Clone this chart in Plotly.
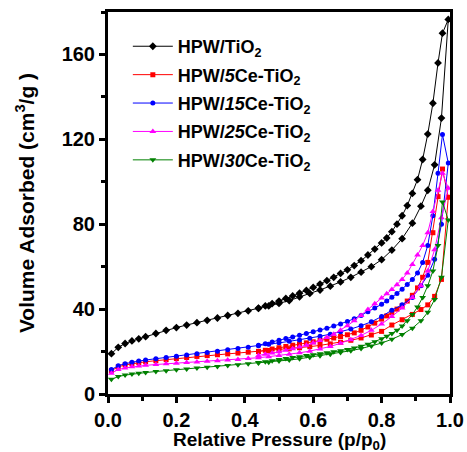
import plotly.graph_objects as go

# Relative pressure grids (adsorption upward, desorption downward)
ADS_P = [0.01, 0.03, 0.05, 0.07, 0.09, 0.11, 0.14, 0.17, 0.20, 0.23, 0.26, 0.29,
         0.32, 0.35, 0.38, 0.41, 0.44, 0.47, 0.50, 0.53, 0.56, 0.59, 0.62, 0.65,
         0.68, 0.71, 0.74, 0.77, 0.80, 0.83, 0.86, 0.89, 0.915, 0.935, 0.955, 0.975, 0.995]
DES_P = [0.978, 0.965, 0.95, 0.935, 0.92, 0.905, 0.89, 0.875, 0.86, 0.845, 0.83, 0.815,
         0.80, 0.78, 0.76, 0.74, 0.72, 0.70, 0.68, 0.66, 0.64, 0.62, 0.60, 0.58,
         0.56, 0.54, 0.52, 0.50, 0.48, 0.46, 0.44]

# Adsorbed volume, cm3/g
TIO2_ADS = [19.0, 22.0, 23.8, 25.0, 26.0, 27.0, 28.5, 30.0, 31.3, 32.5, 33.6, 34.7,
            35.8, 37.0, 38.0, 39.2, 40.3, 41.5, 42.7, 44.0, 45.8, 47.4, 49.0, 50.8,
            52.8, 55.0, 57.4, 60.0, 63.3, 67.8, 73.2, 80.5, 88.5, 96.0, 108.0, 130.0, 176.5]
TIO2_DES = [170, 156, 137, 122.5, 110.5, 101, 94.5, 88.8, 84, 80, 76.5, 73.5,
            71.2, 68.3, 65.5, 62.8, 60.5, 58.5, 56.8, 55.0, 53.4, 51.8, 50.2, 48.8,
            47.5, 46.2, 45.0, 43.8, 42.6, 41.5, 40.5]

CE5_ADS = [11.0, 12.8, 13.7, 14.3, 14.8, 15.2, 15.7, 16.2, 16.7, 17.2, 17.7, 18.1,
           18.5, 18.9, 19.3, 19.7, 20.1, 20.5, 20.9, 21.3, 21.8, 22.3, 22.9, 23.6,
           24.4, 25.3, 26.4, 27.8, 29.5, 32.5, 35.0, 37.5, 39.8, 42.0, 46.0, 54.0, 92.7]
CE5_DES = [106, 93, 76, 62, 55, 50, 46.5, 43.8, 41.6, 40.0, 38.3, 36.8,
           35.3, 33.4, 31.6, 30.0, 28.8, 27.9, 27.1, 26.4, 25.8, 25.2, 24.6, 24.1,
           23.6, 23.0, 22.4, 21.8, 21.2, 20.6, 20.0]

CE15_ADS = [11.5, 13.3, 14.3, 15.0, 15.5, 16.0, 16.6, 17.2, 17.8, 18.4, 19.0, 19.6,
            20.2, 20.8, 21.4, 22.0, 22.7, 23.4, 24.1, 24.8, 25.5, 26.3, 27.2, 28.2,
            29.3, 30.6, 32.2, 34.0, 36.5, 39.5, 42.0, 45.5, 51.0, 56.0, 63.5, 80.0, 108.8]
CE15_DES = [122.3, 104, 84, 70, 62, 57, 54, 51.6, 49.3, 47.4, 45.6, 43.8,
            42.3, 40.5, 38.7, 37.0, 35.5, 34.2, 33.0, 32.0, 31.0, 30.1, 29.3, 28.5,
            27.7, 26.9, 26.1, 25.3, 24.5, 23.7, 23.0]

CE25_ADS = [9.8, 11.5, 12.3, 12.8, 13.2, 13.5, 13.9, 14.2, 14.5, 14.8, 15.1, 15.4,
            15.7, 16.0, 16.3, 16.7, 17.1, 17.6, 18.1, 18.7, 19.4, 20.2, 21.2, 22.4,
            23.9, 25.6, 27.6, 30.0, 33.0, 36.5, 40.5, 45.5, 51.0, 58.0, 68.0, 83.0, 97.0]
CE25_DES = [104, 96, 86, 76, 70, 65.5, 61, 57, 54, 51.5, 49.2, 47.2,
            45.2, 42.5, 39.8, 37.0, 34.5, 32.2, 30.0, 28.2, 26.6, 25.2, 24.0, 23.0,
            22.1, 21.3, 20.6, 19.9, 19.3, 18.7, 18.2]

CE30_ADS = [6.9, 8.2, 8.9, 9.4, 9.8, 10.1, 10.6, 11.0, 11.4, 11.8, 12.2, 12.6,
            13.0, 13.4, 13.8, 14.2, 14.6, 15.0, 15.5, 16.0, 16.6, 17.3, 18.0, 18.7,
            19.5, 20.4, 21.4, 22.6, 24.0, 25.8, 28.0, 31.0, 34.5, 38.5, 44.5, 55.0, 82.0]
CE30_DES = [90.5, 70, 58, 51, 45.5, 41, 37.5, 34.5, 32, 30, 28.5, 27.2,
            26, 24.6, 23.5, 22.5, 21.7, 21.0, 20.4, 19.9, 19.4, 19.0, 18.5, 18.1,
            17.6, 17.2, 16.7, 16.2, 15.7, 15.2, 14.8]

NAMES = ["HPW/TiO<sub>2</sub>",
         "HPW/<i>5</i>Ce-TiO<sub>2</sub>",
         "HPW/<i>15</i>Ce-TiO<sub>2</sub>",
         "HPW/<i>25</i>Ce-TiO<sub>2</sub>",
         "HPW/<i>30</i>Ce-TiO<sub>2</sub>"]
SERIES = [(TIO2_ADS, TIO2_DES), (CE5_ADS, CE5_DES), (CE15_ADS, CE15_DES),
          (CE25_ADS, CE25_DES), (CE30_ADS, CE30_DES)]
COLORS = ["#000000", "#ff0000", "#0000ff", "#ff00ff", "#008000"]
SYMBOLS = ["diamond", "square", "circle", "triangle-up", "triangle-down"]
SIZES = [6, 5, 5, 6, 6]

FONT = "Liberation Sans, Arial, sans-serif"

fig = go.Figure()
for i, (name, (ads, des), col, sym, sz) in enumerate(
        zip(NAMES, SERIES, COLORS, SYMBOLS, SIZES)):
    fig.add_trace(go.Scatter(
        x=ADS_P + DES_P, y=ads + des, name=name, legendgroup=f"g{i}",
        mode="lines+markers",
        line=dict(color=col, width=1),
        marker=dict(color=col, symbol=sym, size=sz, line=dict(width=0)),
    ))

axis_common = dict(
    showline=True, linecolor="black", linewidth=3, mirror=True,
    ticks="outside", ticklen=6, tickwidth=2.5, tickcolor="black",
    showgrid=False, zeroline=False, automargin=False,
    tickfont=dict(family=FONT, size=20, color="black", weight="bold"),
)

fig.update_xaxes(
    range=[0, 1.0], dtick=0.2, tickformat=".1f",
    minor=dict(dtick=0.1, ticks="outside", ticklen=4, tickwidth=2.5, tickcolor="black"),
    **axis_common,
)
fig.update_yaxes(
    range=[0, 180], dtick=40,
    minor=dict(dtick=20, ticks="outside", ticklen=4, tickwidth=2.5, tickcolor="black"),
    title=dict(text="Volume Adsorbed (cm<sup>3</sup>/g )", standoff=22,
               font=dict(family=FONT, size=21, color="black", weight="bold")),
    **axis_common,
)

# x-axis title placed below the tick labels
fig.add_annotation(
    text="Relative Pressure (p/p<sub>0</sub>)",
    xref="paper", yref="paper", x=0.5, y=-0.088,
    xanchor="center", yanchor="top", showarrow=False, borderpad=0,
    font=dict(family=FONT, size=19, color="black", weight="bold"),
)

fig.update_layout(
    width=467, height=452,
    margin=dict(l=108, r=17, t=12, b=58),
    paper_bgcolor="white", plot_bgcolor="white",
    legend=dict(x=0.058, y=0.958, xanchor="left", yanchor="top",
                bgcolor="rgba(0,0,0,0)", itemwidth=40,
                font=dict(family=FONT, size=18, color="black", weight="bold"),
                tracegroupgap=2),
)

fig.write_html("out.html")
